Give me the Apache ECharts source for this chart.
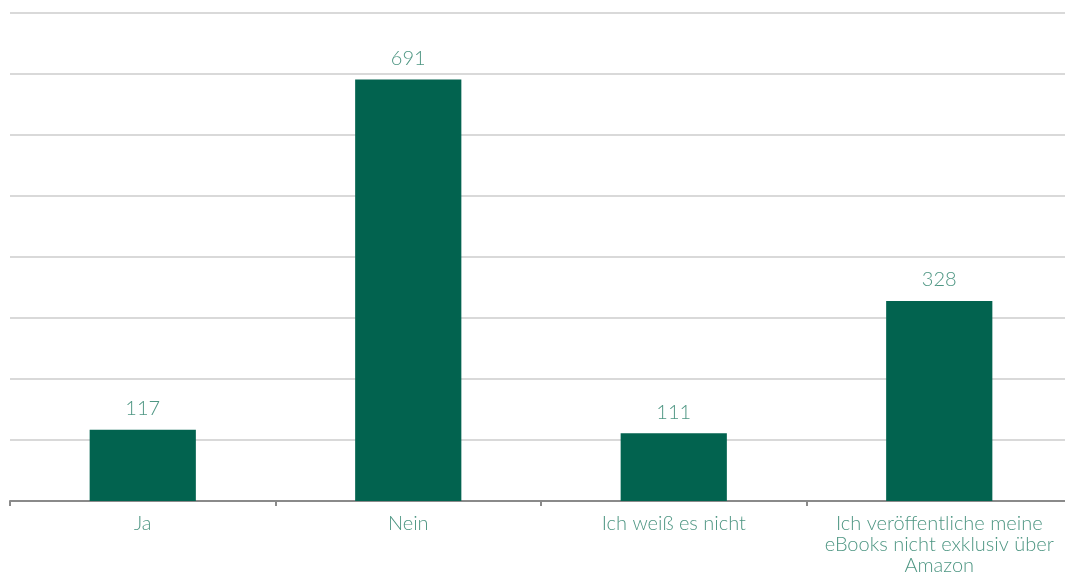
<!DOCTYPE html>
<html>
<head>
<meta charset="utf-8">
<script src="https://cdn.jsdelivr.net/npm/echarts@6/dist/echarts.min.js"></script>
<style>
html,body{margin:0;padding:0;background:#fff;}
#chart{width:1065px;height:577px;}
</style>
</head>
<body>
<div id="chart"></div>
<script>
const categories = ['Ja', 'Nein', 'Ich weiß es nicht', 'Ich veröffentliche meine\neBooks nicht exklusiv über\nAmazon'];
const values = [117, 691, 111, 328];

const chart = echarts.init(document.getElementById('chart'));
chart.setOption({
  animation: false,
  grid: {left: 10, width: 1062, top: 13, bottom: 76, containLabel: false, outerBoundsMode: 'none'},
  xAxis: {
    type: 'category',
    data: categories,
    axisLine: {lineStyle: {color: '#8a8a8a', width: 2}},
    axisTick: {show: true, length: 5, lineStyle: {color: '#8a8a8a', width: 2}},
    axisLabel: {
      color: '#4e9683',
      fontFamily: 'Lato',
      fontWeight: 300,
      fontSize: 20,
      lineHeight: 21,
      margin: 12,
      interval: 0
    }
  },
  yAxis: {
    type: 'value',
    min: 0,
    max: 800,
    interval: 100,
    axisLabel: {show: false},
    axisLine: {show: false},
    axisTick: {show: false},
    splitLine: {lineStyle: {color: '#d9d9d9', width: 2}}
  },
  series: [{
    type: 'bar',
    data: values,
    barWidth: '40%',
    itemStyle: {color: '#02634f'},
    label: {
      show: true,
      position: 'top',
      distance: 11,
      color: '#4e9683',
      fontFamily: 'Lato',
      fontWeight: 300,
      fontSize: 20
    }
  }]
});
</script>
</body>
</html>
